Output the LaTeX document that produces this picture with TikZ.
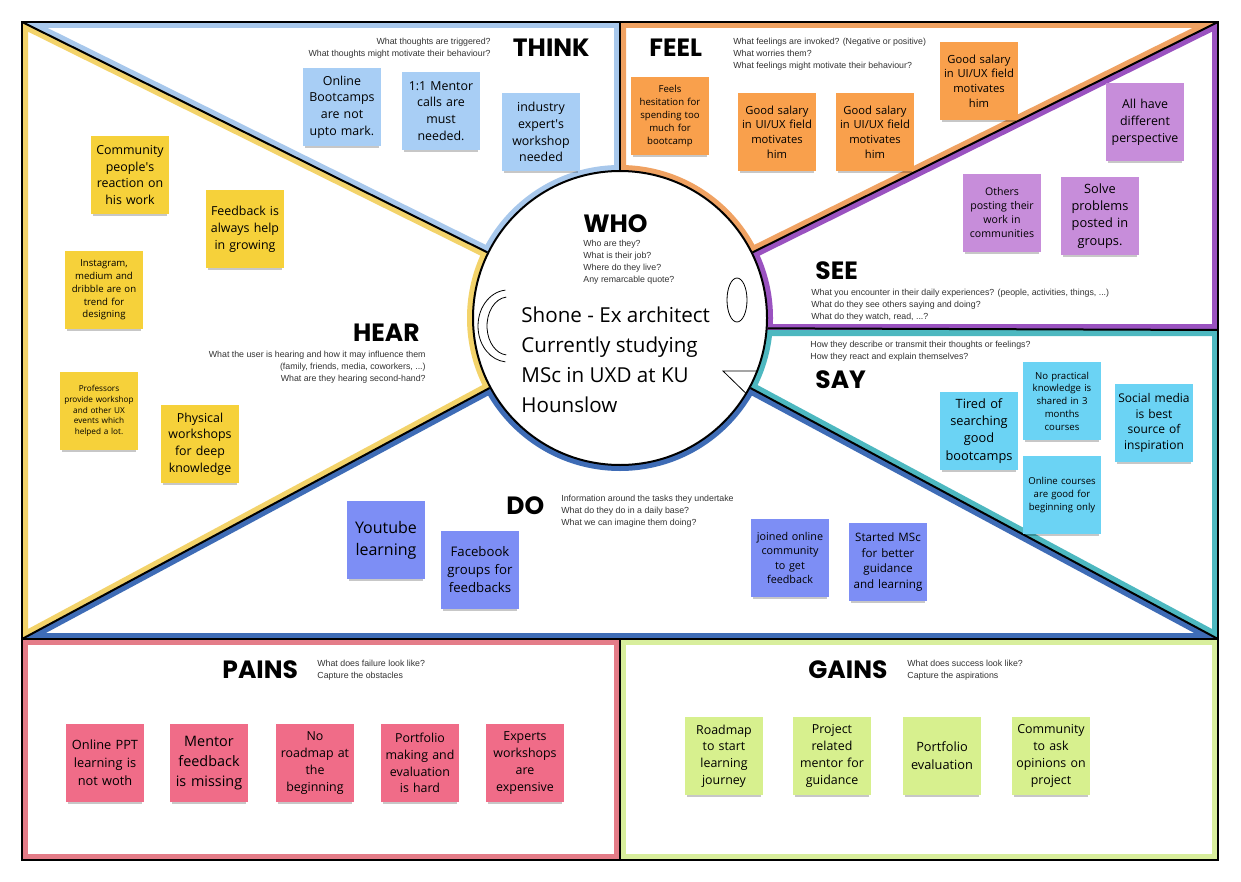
\documentclass[tikz,border=0pt]{standalone}
\usepackage{fontspec}
\setmainfont{Open Sans}
\newfontfamily\headfont{Poppins}
\newfontfamily\askfont{Liberation Sans}
\usetikzlibrary{calc,shadows}

\definecolor{thinkband}{HTML}{A8C8EC}
\definecolor{thinkfill}{HTML}{A8CEF5}
\definecolor{hearband}{HTML}{F3D36A}
\definecolor{hearfill}{HTML}{F6D13A}
\definecolor{feelband}{HTML}{F0A262}
\definecolor{feelfill}{HTML}{F9A04C}
\definecolor{seeband}{HTML}{9A52C0}
\definecolor{seefill}{HTML}{C78DDA}
\definecolor{sayband}{HTML}{4DB8C0}
\definecolor{sayfill}{HTML}{6BD3F4}
\definecolor{doband}{HTML}{3E6CB6}
\definecolor{dofill}{HTML}{7D8EF5}
\definecolor{painband}{HTML}{E47C88}
\definecolor{painfill}{HTML}{F06C88}
\definecolor{gainband}{HTML}{D8EE9C}
\definecolor{gainfill}{HTML}{D7F08E}
\definecolor{asktext}{HTML}{333333}

\begin{document}
\begin{tikzpicture}[x=0.5pt, y=-0.5pt,
      band/.style={line width=6pt, draw=#1},
      divider/.style={line width=1pt, draw=black},
      head/.style={font=\headfont\bfseries\fontsize{12.5}{14}\selectfont, inner sep=0pt},
      ask/.style={font=\askfont\fontsize{4.4}{6}\selectfont, text=asktext, inner sep=0pt},
      note/.style={minimum width=39pt, minimum height=39pt, text width=36pt,
                   inner sep=1.5pt, align=center, font=\fontsize{6.2}{8.4}\selectfont,
                   drop shadow={shadow xshift=0pt, shadow yshift=-2.5pt,
                                shadow scale=.94, opacity=.22, fill=black}},
      thinknote/.style={note, fill=thinkfill},
      hearnote/.style={note, fill=hearfill},
      feelnote/.style={note, fill=feelfill},
      seenote/.style={note, fill=seefill},
      saynote/.style={note, fill=sayfill},
      donote/.style={note, fill=dofill},
      painnote/.style={note, fill=painfill},
      gainnote/.style={note, fill=gainfill},
      tiny/.style={font=\fontsize{4.8}{6.4}\selectfont}]
    \fill[white] (0,0) rectangle (1241,882);
    \useasboundingbox (0,0) rectangle (1241,882);

    % corners of the map
    \coordinate (C) at (620,318);
    \coordinate (TL) at (22,22);
    \coordinate (TM) at (620,22);
    \coordinate (TR) at (1218,22);
    \coordinate (RS) at (1218,330);
    \coordinate (CS) at (766.5,330);
    \coordinate (RB) at (1218,639);
    \coordinate (LB) at (22,639);
    \coordinate (BM) at (620,639);
    \coordinate (QL) at (22,860);
    \coordinate (QM) at (620,860);
    \coordinate (QR) at (1218,860);

    % coloured bands inside each region
    \foreach \col/\shape in {
        thinkband/{(TL) -- (TM) -- (C)},
        feelband/{(TM) -- (TR) -- (C)},
        seeband/{(TR) -- (RS) -- (CS) -- (C)},
        sayband/{(RS) -- (RB) -- (C) -- (CS)},
        doband/{(RB) -- (LB) -- (C)},
        hearband/{(LB) -- (TL) -- (C)},
        painband/{(LB) -- (BM) -- (QM) -- (QL)},
        gainband/{(BM) -- (RB) -- (QR) -- (QM)}}{
      \begin{scope}
        \clip \shape -- cycle;
        \draw[band=\col] \shape -- cycle;
        \draw[band=\col] (C) circle[radius=73.5pt];
      \end{scope}
    }

    % who circle
    \node[circle, draw, line width=1pt, fill=white, minimum size=147pt, inner sep=0pt] (who) at (C) {};
    \draw[divider] (TL) -- (who);
    \draw[divider] (TM) -- (who);
    \draw[divider] (TR) -- (who);
    \draw[divider] (LB) -- (who);
    \draw[divider] (RB) -- (who);
    \draw[divider] (who.-4.7) -- (RS);
    \draw[line width=1.2pt] (LB) -- (RB);
    \draw[divider] (BM) -- (QM);
    \draw[line width=1.2pt] (TL) rectangle (QR);

    % face sketch
    \coordinate (ear) at (508,326);
    \coordinate (eye) at (737,300);
    \coordinate (mouth) at (723,371);
    \draw[line width=.4pt] ($(ear)+(95:15pt and 18pt)$) arc[start angle=95, end angle=265, x radius=15pt, y radius=18pt];
    \draw[line width=.4pt] ($(ear)+(95:10.5pt and 14.5pt)$) arc[start angle=95, end angle=265, x radius=10.5pt, y radius=14.5pt];
    \draw[line width=.4pt] (eye) ellipse[x radius=5pt, y radius=11pt];
    \draw[line width=.4pt] (who.-21) -- (mouth) -- (who.-31);

    % titles and prompts
    \node[head, anchor=west] (whohead) at (583,224) {WHO};
    \node[ask, anchor=west, align=left] (whoask) at (583,262) {Who are they?\\What is their job?\\Where do they live?\\Any remarcable quote?};
    \node[anchor=west, align=left, inner sep=0pt, font=\fontsize{10.3}{15}\selectfont] (persona) at (521,360)
      {Shone - Ex architect\\Currently studying\\MSc in UXD at KU\\Hounslow};

    \node[head, anchor=east] (thinkhead) at (590,48) {THINK};
    \node[ask, anchor=east, align=right] (thinkask) at (491,48) {What thoughts are triggered?\\What thoughts might motivate their behaviour?};
    \node[head, anchor=west] (feelhead) at (649,48) {FEEL};
    \node[ask, anchor=west, align=left] (feelask) at (733,54) {What feelings are invoked? (Negative or positive)\\What worries them?\\What feelings might motivate their behaviour?};
    \node[head, anchor=west] (seehead) at (815,271) {SEE};
    \node[ask, anchor=west, align=left] (seeask) at (811,305) {What you encounter in their daily experiences? (people, activities, things, ...)\\What do they see others saying and doing?\\What do they watch, read, ...?};
    \node[head, anchor=west] (sayhead) at (815,380) {SAY};
    \node[ask, anchor=west, align=left] (sayask) at (810,351) {How they describe or transmit their thoughts or feelings?\\How they react and explain themselves?};
    \node[head, anchor=west] (dohead) at (506,506) {DO};
    \node[ask, anchor=west, align=left] (doask) at (561,511) {Information around the tasks they undertake\\What do they do in a daily base?\\What we can imagine them doing?};
    \node[head, anchor=east] (hearhead) at (420,333) {HEAR};
    \node[ask, anchor=east, align=right] (hearask) at (426,367) {What the user is hearing and how it may influence them\\(family, friends, media, coworkers, ...)\\What are they hearing second-hand?};
    \node[head, anchor=west] (painhead) at (222,670) {PAINS};
    \node[ask, anchor=west, align=left] (painask) at (317,670) {What does failure look like?\\Capture the obstacles};
    \node[head, anchor=west] (gainhead) at (808,670) {GAINS};
    \node[ask, anchor=west, align=left] (gainask) at (907,670) {What does success look like?\\Capture the aspirations};

    % think
    \node[thinknote] (think1) at (342,107) {Online\\Bootcamps\\are not\\upto mark.};
    \node[thinknote] (think2) at (441,111) {1:1 Mentor\\calls are\\must\\needed.};
    \node[thinknote] (think3) at (541,132) {industry\\expert\textquotesingle s\\workshop\\needed};

    % hear
    \node[hearnote] (hear1) at (130,175) {Community\\people\textquotesingle s\\reaction on\\his work};
    \node[hearnote] (hear2) at (245,229) {Feedback is\\always help\\in growing};
    \node[hearnote, tiny] (hear3) at (104,290) {Instagram,\\medium and\\dribble are on\\trend for\\designing};
    \node[hearnote, font=\fontsize{4.1}{5.3}\selectfont] (hear4) at (99,411) {Professors\\provide workshop\\and other UX\\events which\\helped a lot.};
    \node[hearnote] (hear5) at (200,444) {Physical\\workshops\\for deep\\knowledge};

    % feel
    \node[feelnote, tiny] (feel1) at (670,116) {Feels\\hesitation for\\spending too\\much for\\bootcamp};
    \node[feelnote, font=\fontsize{5.6}{7.4}\selectfont] (feel2) at (777,132) {Good salary\\in UI/UX field\\motivates\\him};
    \node[feelnote, font=\fontsize{5.6}{7.4}\selectfont] (feel3) at (875,132) {Good salary\\in UI/UX field\\motivates\\him};
    \node[feelnote, font=\fontsize{5.6}{7.4}\selectfont] (feel4) at (979,81) {Good salary\\in UI/UX field\\motivates\\him};

    % see
    \node[seenote] (see1) at (1145,122) {All have\\different\\perspective};
    \node[seenote, font=\fontsize{5.3}{7}\selectfont] (see2) at (1002,213) {Others\\posting their\\work in\\communities};
    \node[seenote, font=\fontsize{6.4}{8.6}\selectfont] (see3) at (1100,216) {Solve\\problems\\posted in\\groups.};

    % say
    \node[saynote, font=\fontsize{6.4}{8.6}\selectfont] (say1) at (979,431) {Tired of\\searching\\good\\bootcamps};
    \node[saynote, tiny] (say2) at (1062,401) {No practical\\knowledge is\\shared in 3\\months\\courses};
    \node[saynote, tiny] (say3) at (1062,495) {Online courses\\are good for\\beginning only};
    \node[saynote, font=\fontsize{6}{7.8}\selectfont] (say4) at (1154,423) {Social media\\is best\\source of\\inspiration};

    % do
    \node[donote, font=\fontsize{8}{11}\selectfont] (do1) at (386,540) {Youtube\\learning};
    \node[donote, font=\fontsize{6.6}{9}\selectfont] (do2) at (480,570) {Facebook\\groups for\\feedbacks};
    \node[donote, font=\fontsize{5.4}{7.2}\selectfont] (do3) at (790,558) {joined online\\community\\to get\\feedback};
    \node[donote, font=\fontsize{5.8}{7.7}\selectfont] (do4) at (888,562) {Started MSc\\for better\\guidance\\and learning};

    % pains
    \node[painnote, font=\fontsize{6.4}{9}\selectfont] (pain1) at (105,763) {Online PPT\\learning is\\not woth};
    \node[painnote, font=\fontsize{7.2}{10}\selectfont] (pain2) at (209,763) {Mentor\\feedback\\is missing};
    \node[painnote] (pain3) at (315,763) {No\\roadmap at\\the\\beginning};
    \node[painnote] (pain4) at (420,763) {Portfolio\\making and\\evaluation\\is hard};
    \node[painnote] (pain5) at (525,763) {Experts\\workshops\\are\\expensive};

    % gains
    \node[gainnote] (gain1) at (724,756) {Roadmap\\to start\\learning\\journey};
    \node[gainnote] (gain2) at (832,756) {Project\\related\\mentor for\\guidance};
    \node[gainnote, font=\fontsize{6.4}{9}\selectfont] (gain3) at (942,756) {Portfolio\\evaluation};
    \node[gainnote] (gain4) at (1051,756) {Community\\to ask\\opinions on\\project};
\end{tikzpicture}
\end{document}
